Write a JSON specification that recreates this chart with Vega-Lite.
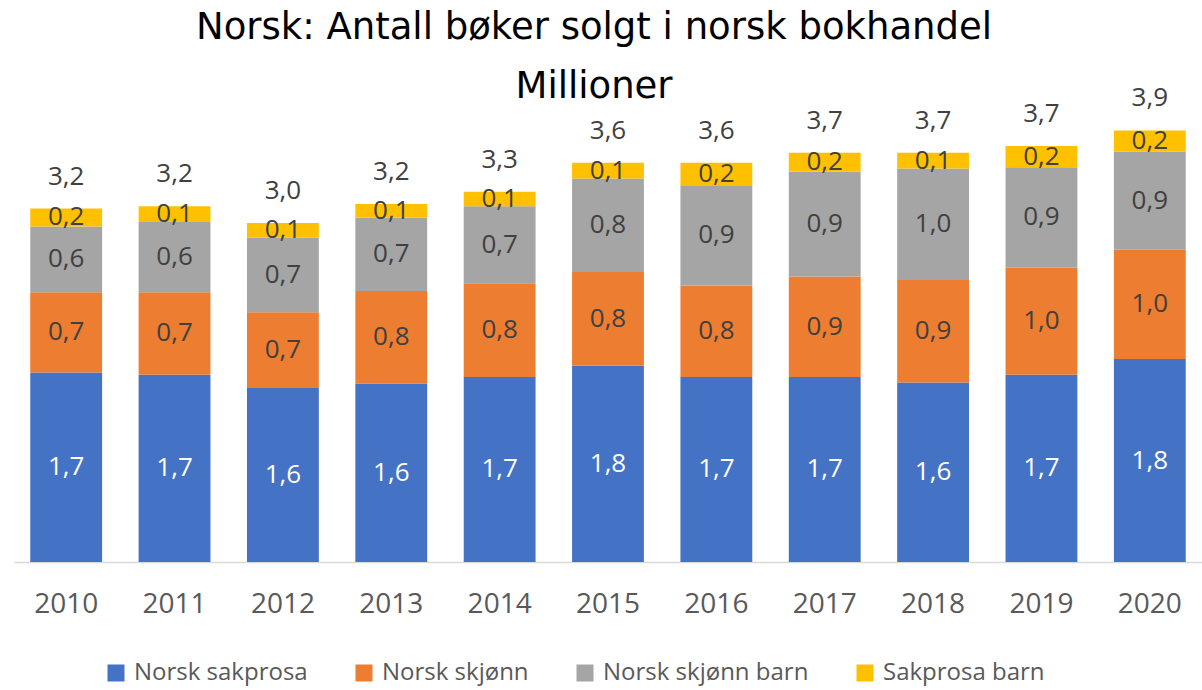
{
  "$schema": "https://vega.github.io/schema/vega-lite/v6.json",
  "autosize": {"type": "none"},
  "width": 1188,
  "height": 446,
  "padding": {"left": 14, "top": 116, "right": 0, "bottom": 128},
  "background": "white",
  "title": {
    "text": "Norsk: Antall bøker solgt i norsk bokhandel",
    "subtitle": "Millioner",
    "anchor": "middle",
    "dx": -14,
    "font": "DejaVu Sans",
    "fontSize": 37,
    "fontWeight": "normal",
    "color": "#000000",
    "subtitleFont": "DejaVu Sans",
    "subtitleFontSize": 37,
    "subtitleColor": "#000000",
    "subtitlePadding": 22,
    "offset": -21
  },
  "config": {
    "locale": {"number": {"decimal": ",", "thousands": " ", "grouping": [3], "currency": ["", " kr"]}},
    "view": {"stroke": null},
    "font": "Open Sans"
  },
  "data": {
    "values": [
      {"year": "2010", "category": "Norsk sakprosa", "value": 1.70},
      {"year": "2010", "category": "Norsk skjønn", "value": 0.72},
      {"year": "2010", "category": "Norsk skjønn barn", "value": 0.59},
      {"year": "2010", "category": "Sakprosa barn", "value": 0.16},
      {"year": "2011", "category": "Norsk sakprosa", "value": 1.68},
      {"year": "2011", "category": "Norsk skjønn", "value": 0.74},
      {"year": "2011", "category": "Norsk skjønn barn", "value": 0.63},
      {"year": "2011", "category": "Sakprosa barn", "value": 0.14},
      {"year": "2012", "category": "Norsk sakprosa", "value": 1.56},
      {"year": "2012", "category": "Norsk skjønn", "value": 0.68},
      {"year": "2012", "category": "Norsk skjønn barn", "value": 0.67},
      {"year": "2012", "category": "Sakprosa barn", "value": 0.13},
      {"year": "2013", "category": "Norsk sakprosa", "value": 1.60},
      {"year": "2013", "category": "Norsk skjønn", "value": 0.83},
      {"year": "2013", "category": "Norsk skjønn barn", "value": 0.66},
      {"year": "2013", "category": "Sakprosa barn", "value": 0.12},
      {"year": "2014", "category": "Norsk sakprosa", "value": 1.66},
      {"year": "2014", "category": "Norsk skjønn", "value": 0.84},
      {"year": "2014", "category": "Norsk skjønn barn", "value": 0.69},
      {"year": "2014", "category": "Sakprosa barn", "value": 0.13},
      {"year": "2015", "category": "Norsk sakprosa", "value": 1.76},
      {"year": "2015", "category": "Norsk skjønn", "value": 0.84},
      {"year": "2015", "category": "Norsk skjønn barn", "value": 0.84},
      {"year": "2015", "category": "Sakprosa barn", "value": 0.14},
      {"year": "2016", "category": "Norsk sakprosa", "value": 1.66},
      {"year": "2016", "category": "Norsk skjønn", "value": 0.82},
      {"year": "2016", "category": "Norsk skjønn barn", "value": 0.90},
      {"year": "2016", "category": "Sakprosa barn", "value": 0.20},
      {"year": "2017", "category": "Norsk sakprosa", "value": 1.66},
      {"year": "2017", "category": "Norsk skjønn", "value": 0.90},
      {"year": "2017", "category": "Norsk skjønn barn", "value": 0.94},
      {"year": "2017", "category": "Sakprosa barn", "value": 0.17},
      {"year": "2018", "category": "Norsk sakprosa", "value": 1.61},
      {"year": "2018", "category": "Norsk skjønn", "value": 0.92},
      {"year": "2018", "category": "Norsk skjønn barn", "value": 1.00},
      {"year": "2018", "category": "Sakprosa barn", "value": 0.14},
      {"year": "2019", "category": "Norsk sakprosa", "value": 1.68},
      {"year": "2019", "category": "Norsk skjønn", "value": 0.96},
      {"year": "2019", "category": "Norsk skjønn barn", "value": 0.90},
      {"year": "2019", "category": "Sakprosa barn", "value": 0.19},
      {"year": "2020", "category": "Norsk sakprosa", "value": 1.82},
      {"year": "2020", "category": "Norsk skjønn", "value": 0.98},
      {"year": "2020", "category": "Norsk skjønn barn", "value": 0.88},
      {"year": "2020", "category": "Sakprosa barn", "value": 0.19}
    ]
  },
  "layer": [
    {
      "transform": [
        {"stack": "value", "groupby": ["year"], "sort": [{"field": "category", "order": "ascending"}], "as": ["y0", "y1"]}
      ],
      "mark": {"type": "bar"},
      "encoding": {
        "x": {
          "field": "year", "type": "nominal", "title": null,
          "scale": {"paddingInner": 0.337, "paddingOuter": 0.15},
          "axis": {"labelAngle": 0, "labelFontSize": 28, "labelColor": "#595959", "labelFont": "Open Sans", "ticks": false, "domainColor": "#d9d9d9", "domainWidth": 1.5, "labelPadding": 28}
        },
        "y": {"field": "y0", "type": "quantitative", "scale": {"domain": [0, 4], "nice": false}, "axis": null},
        "y2": {"field": "y1"},
        "color": {
          "field": "category", "type": "nominal",
          "scale": {"domain": ["Norsk sakprosa", "Norsk skjønn", "Norsk skjønn barn", "Sakprosa barn"], "range": ["#4472C4", "#ED7D31", "#A5A5A5", "#FFC000"]},
          "legend": {
            "title": null, "orient": "none", "direction": "horizontal", "legendX": 90, "legendY": 545,
            "symbolType": "square", "symbolSize": 289, "symbolStrokeWidth": 0, "labelFontSize": 24, "labelColor": "#595959",
            "labelFont": "Open Sans", "labelOffset": 6, "columnPadding": 44, "labelLimit": 0
          }
        }
      }
    },
    {
      "transform": [
        {"stack": "value", "groupby": ["year"], "sort": [{"field": "category", "order": "ascending"}], "as": ["y0", "y1"]},
        {"calculate": "(datum.y0 + datum.y1) / 2", "as": "mid"}
      ],
      "mark": {"type": "text", "fontSize": 26, "baseline": "middle", "font": "Open Sans"},
      "encoding": {
        "x": {"field": "year", "type": "nominal"},
        "y": {"field": "mid", "type": "quantitative"},
        "text": {"field": "value", "type": "quantitative", "format": ".1f"},
        "color": {"condition": {"test": "datum.category === 'Norsk sakprosa'", "value": "#ffffff"}, "value": "#404040"}
      }
    },
    {
      "mark": {"type": "text", "fontSize": 26, "baseline": "alphabetic", "dy": -24, "color": "#404040", "font": "Open Sans"},
      "encoding": {
        "x": {"field": "year", "type": "nominal"},
        "y": {"aggregate": "sum", "field": "value", "type": "quantitative"},
        "text": {"aggregate": "sum", "field": "value", "type": "quantitative", "format": ".1f"}
      }
    }
  ]
}
